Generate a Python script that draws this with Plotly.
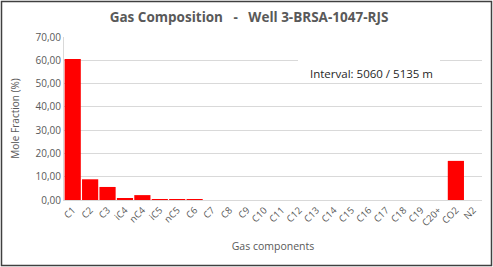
import plotly.graph_objects as go

categories = ["C1", "C2", "C3", "iC4", "nC4", "iC5", "nC5", "C6", "C7", "C8", "C9", "C10",
              "C11", "C12", "C13", "C14", "C15", "C16", "C17", "C18", "C19", "C20+", "CO2", "N2"]
values = [60.6, 8.9, 5.6, 0.6, 2.1, 0.4, 0.4, 0.4, 0, 0, 0, 0,
          0, 0, 0, 0, 0, 0, 0, 0, 0, 0, 16.8, 0]
y_ticks = [0, 10, 20, 30, 40, 50, 60, 70]

W, H = 493, 267
L, R, T, B = 64, 11, 37, 67
pw, ph = W - L - R, H - T - B

def px(x):
    return (x - L) / pw

def py(y):
    return (H - B - y) / ph

gray = "#595959"
font = "Open Sans"

fig = go.Figure(go.Bar(x=categories, y=values, marker=dict(color="#FF0000", line=dict(width=0)),
                       width=0.93))

fig.update_layout(
    width=W, height=H, margin=dict(l=L, r=R, t=T, b=B),
    paper_bgcolor="white", plot_bgcolor="white",
    separators=",.",
    showlegend=False,
    font=dict(family=font, color=gray, size=10),
    title=dict(text="<b>Gas Composition   -   Well 3-BRSA-1047-RJS</b>", x=249 / W, xanchor="center",
               y=1 - 17 / H, yanchor="middle", font=dict(size=13.5, color=gray, family=font)),
    xaxis=dict(tickangle=-45, showgrid=False, showline=True, linecolor="#D9D9D9", linewidth=1,
               ticks="", tickfont=dict(size=9.5, color=gray),
               title=dict(text="Gas components", font=dict(size=10.5, color=gray), standoff=14)),
    yaxis=dict(range=[0, 70], tickvals=y_ticks, tickformat=".2f", showgrid=True,
               gridcolor="#D9D9D9", gridwidth=1, zeroline=False, showline=True,
               linecolor="#D9D9D9", ticks="", tickfont=dict(size=10, color=gray),
               title=dict(text="Mole Fraction (%)", font=dict(size=10, color=gray), standoff=14)),
)

fig.add_shape(type="rect", xref="paper", yref="paper",
              x0=px(298), x1=px(440), y0=py(83), y1=py(56),
              fillcolor="white", line=dict(width=0), layer="above")
fig.add_annotation(text="Interval: 5060 / 5135 m", xref="paper", yref="paper",
                   x=px(371), y=py(73), xanchor="center", yanchor="middle", showarrow=False,
                   font=dict(size=11.5, color="#262626", family=font))

fig.add_shape(type="rect", xref="paper", yref="paper",
              x0=px(1.5), x1=px(491.5), y0=py(265.5), y1=py(1.5),
              line=dict(color="#404040", width=1.5), fillcolor="rgba(0,0,0,0)", layer="above")

fig.write_html("out.html")
